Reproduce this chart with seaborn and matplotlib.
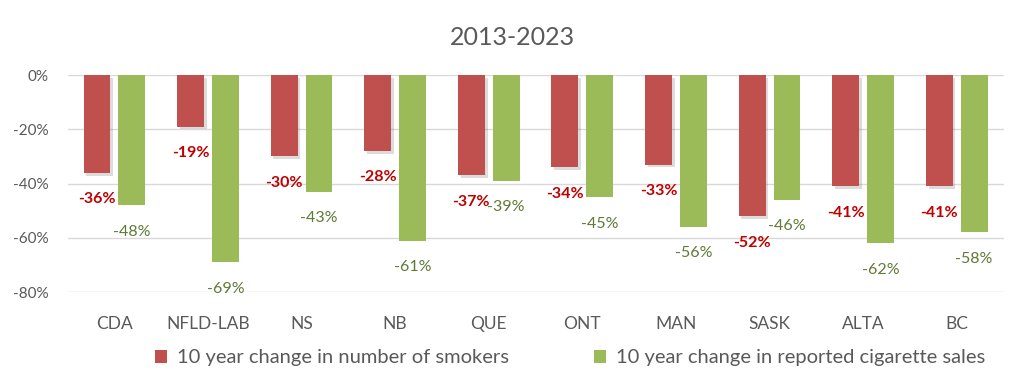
import numpy as np
import pandas as pd
import matplotlib.pyplot as plt
import matplotlib.patheffects as pe
import seaborn as sns

# data
provinces = ["CDA", "NFLD-LAB", "NS", "NB", "QUE", "ONT", "MAN", "SASK", "ALTA", "BC"]
smokers_change = [-36, -19, -30, -28, -37, -34, -33, -52, -41, -41]
sales_change = [-48, -69, -43, -61, -39, -45, -56, -46, -62, -58]
series_names = ["10 year change in number of smokers",
                "10 year change in reported cigarette sales"]
y_ticks = [0, -20, -40, -60, -80]

df = pd.DataFrame({
    "province": provinces * 2,
    "series": [series_names[0]] * len(provinces) + [series_names[1]] * len(provinces),
    "value": smokers_change + sales_change,
})

sns.set_theme(style="white")
plt.rcParams["font.family"] = ["Lato", "DejaVu Sans"]

RED = "#C0504D"
GREEN = "#9BBB59"

fig = plt.figure(figsize=(10.24, 3.91), dpi=100)
ax = fig.add_axes([0.066, 0.253, 0.914, 0.555])

sns.barplot(data=df, x="province", y="value", hue="series",
            palette=[RED, GREEN], width=0.745, gap=0.23,
            saturation=1, linewidth=0, ax=ax, legend=True)

# soft shadow on the red bars, like the original
for bar in ax.containers[0]:
    bar.set_path_effects([pe.SimplePatchShadow(offset=(2, -2), alpha=0.18,
                                               shadow_rgbFace="#404040"),
                          pe.Normal()])

ax.set_ylim(-80, 0)
ax.set_yticks(y_ticks)
ax.set_yticklabels([f"{t}%" for t in y_ticks])
ax.set_xlim(-0.5, len(provinces) - 0.5)
ax.grid(axis="y", color="#D9D9D9", linewidth=1)
ax.set_axisbelow(True)
for s in ax.spines.values():
    s.set_visible(False)
ax.set_xlabel("")
ax.set_ylabel("")
ax.tick_params(axis="y", colors="#595959", labelsize=11, pad=14, length=0)
ax.tick_params(axis="x", colors="#595959", labelsize=12.5, pad=17, length=0)

# data labels under each bar end
ax.bar_label(ax.containers[0], labels=[f"{v}%" for v in smokers_change],
             padding=14, color="#C00000", fontsize=11.5, fontweight="bold")
ax.bar_label(ax.containers[1], labels=[f"{v}%" for v in sales_change],
             padding=14, color="#5F7A35", fontsize=11.5)

fig.text(0.5, 0.905, "2013-2023", ha="center", va="center",
         fontsize=18, color="#595959")

handles, labels = ax.get_legend_handles_labels()
ax.legend_.remove()
fig.legend(handles, labels, loc="center", bbox_to_anchor=(0.557, 0.085),
           ncol=2, frameon=False, fontsize=14.5, handlelength=0.6,
           handleheight=0.6, handletextpad=0.5, columnspacing=4.2,
           labelcolor="#595959")

fig.savefig("out.png", dpi=100)
